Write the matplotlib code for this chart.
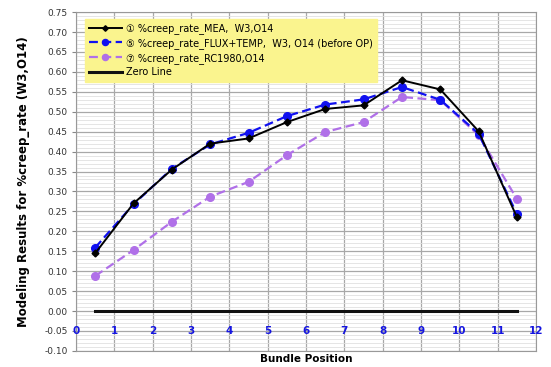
import matplotlib
matplotlib.use('Agg')
import matplotlib.pyplot as plt
from matplotlib.ticker import MultipleLocator

# --- Data -------------------------------------------------------------------------------------------------------------
positions = [0.5, 1.5, 2.5, 3.5, 4.5, 5.5, 6.5, 7.5, 8.5, 9.5, 10.5, 11.5]
creep_mea = [0.145, 0.27, 0.355, 0.42, 0.433, 0.474, 0.507, 0.516, 0.579, 0.556, 0.451, 0.235]
creep_flux_temp = [0.159, 0.268, 0.357, 0.418, 0.447, 0.489, 0.518, 0.531, 0.562, 0.53, 0.445, 0.243]
creep_rc1980 = [0.088, 0.153, 0.224, 0.287, 0.324, 0.391, 0.449, 0.474, 0.537, 0.529, 0.441, 0.281]
zero_line = [0.0] * len(positions)

x_ticks = list(range(0, 13))
y_ticks = [round(-0.10 + 0.05 * i, 2) for i in range(18)]

labels = ['\u2460 %creep_rate_MEA,  W3,O14',
          '\u2464 %creep_rate_FLUX+TEMP,  W3, O14 (before OP)',
          '\u2466 %creep_rate_RC1980,O14',
          'Zero Line']

plt.rcParams['font.family'] = ['DejaVu Sans', 'Noto Sans CJK JP']

# --- Plot -------------------------------------------------------------------------------------------------------------
fig = plt.figure(figsize=(5.51, 3.67), dpi=100)
ax = fig.add_axes([0.138, 0.044, 0.835, 0.923])

ax.plot(positions, creep_mea, color='black', lw=1.4, marker='D', ms=3.5, label=labels[0], zorder=5)
ax.plot(positions, creep_flux_temp, color='#1010F0', lw=1.6, ls=(0, (4, 2)), marker='o', ms=5.5, label=labels[1], zorder=4)
ax.plot(positions, creep_rc1980, color='#B070E8', lw=1.6, ls=(0, (4, 2)), marker='o', ms=5.5, label=labels[2], zorder=3)
ax.plot(positions, zero_line, color='#111111', lw=2.2, label=labels[3], zorder=2)

ax.set_xlim(0, 12)
ax.set_ylim(-0.10, 0.75)
ax.set_xticks(x_ticks)
ax.set_xticklabels([])
ax.set_yticks(y_ticks)
ax.set_yticklabels([f'{v:.2f}' for v in y_ticks], fontsize=6.5, color='#333333')
ax.yaxis.set_minor_locator(MultipleLocator(0.01))
ax.tick_params(axis='x', length=0)
ax.tick_params(axis='y', which='major', length=3, color='#888888', pad=3)
ax.tick_params(axis='y', which='minor', length=0)

ax.grid(True, which='major', color='#A8A8A8', lw=0.9)
ax.grid(True, which='minor', axis='y', color='#E0E0E0', lw=0.6)
ax.set_axisbelow(True)
for s in ax.spines.values():
    s.set_color('#999999')
    s.set_linewidth(0.8)

# x tick labels sit inside the plot, along y = -0.05
for t in x_ticks:
    ax.text(t, -0.05, str(t), color='#1515E0', fontsize=7.5, fontweight='bold',
            ha='center', va='center', zorder=6)

ax.set_ylabel('Modeling Results for %creep_rate (W3,O14)', fontsize=8.5, fontweight='bold', labelpad=10)
ax.set_xlabel('Bundle Position', fontsize=7.5, fontweight='bold', labelpad=-1)

leg = ax.legend(loc='upper left', bbox_to_anchor=(0.008, 0.995), fontsize=7, frameon=True,
                facecolor='#FAF48E', edgecolor='#FAF48E', framealpha=1, fancybox=False,
                handlelength=3.4, labelspacing=0.4, borderpad=0.45, handletextpad=0.4,
                markerscale=0.8)
leg.set_zorder(10)

fig.savefig('out.png', dpi=100)
